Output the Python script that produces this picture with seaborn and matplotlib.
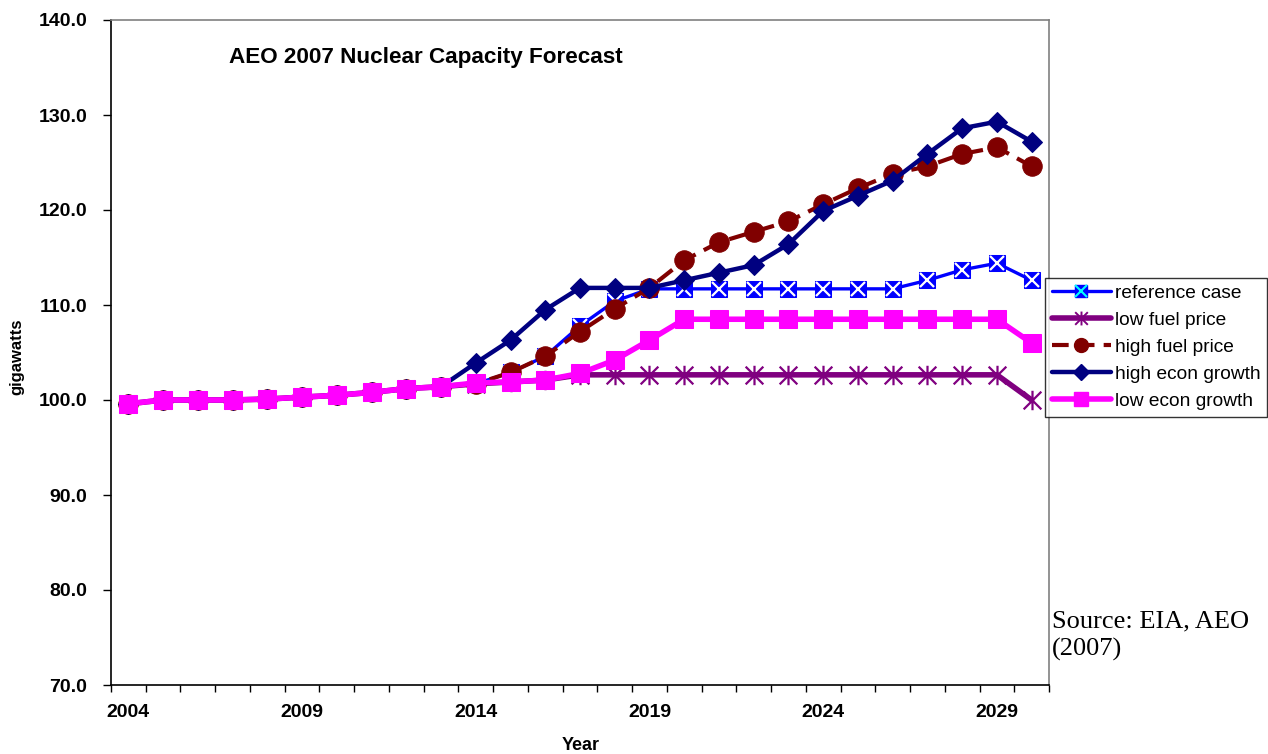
import numpy as np
import pandas as pd
import matplotlib
matplotlib.use("Agg")
import matplotlib.pyplot as plt
import seaborn as sns
from matplotlib.path import Path
from matplotlib.lines import Line2D
from matplotlib.legend_handler import HandlerTuple

# AEO 2007 nuclear capacity by scenario (gigawatts), 2004-2030
years = list(range(2004, 2031))

reference_case = [99.6, 100.0, 100.0, 100.0, 100.1, 100.3, 100.5, 100.8, 101.2, 101.4,
                  101.7, 102.9, 104.6, 107.8, 110.4, 111.7, 111.7, 111.7, 111.7, 111.7,
                  111.7, 111.7, 111.7, 112.6, 113.7, 114.4, 112.6]
low_fuel_price = [99.6, 100.0, 100.0, 100.0, 100.1, 100.3, 100.5, 100.8, 101.2, 101.4,
                  101.7, 101.9, 102.1, 102.65, 102.65, 102.65, 102.65, 102.65, 102.65, 102.65,
                  102.65, 102.65, 102.65, 102.65, 102.65, 102.65, 100.0]
high_fuel_price = [99.6, 100.0, 100.0, 100.0, 100.1, 100.3, 100.5, 100.8, 101.2, 101.4,
                   101.7, 102.9, 104.6, 107.2, 109.6, 111.8, 114.7, 116.6, 117.7, 118.8,
                   120.6, 122.3, 123.8, 124.6, 125.9, 126.6, 124.6]
high_econ_growth = [99.6, 100.0, 100.0, 100.0, 100.1, 100.3, 100.5, 100.8, 101.2, 101.4,
                    103.9, 106.3, 109.5, 111.8, 111.8, 111.8, 112.6, 113.4, 114.2, 116.4,
                    119.9, 121.5, 123.1, 125.9, 128.6, 129.3, 127.2]
low_econ_growth = [99.6, 100.0, 100.0, 100.0, 100.1, 100.3, 100.5, 100.8, 101.2, 101.4,
                   101.8, 101.9, 102.1, 102.8, 104.2, 106.3, 108.5, 108.5, 108.5, 108.5,
                   108.5, 108.5, 108.5, 108.5, 108.5, 108.5, 106.0]

series_names = ["reference case", "low fuel price", "high fuel price",
                "high econ growth", "low econ growth"]
year_labels = [2004, 2009, 2014, 2019, 2024, 2029]
y_ticks = [70, 80, 90, 100, 110, 120, 130, 140]

sns.set_style("ticks")
plt.rcParams["font.family"] = ["Liberation Sans", "DejaVu Sans"]
plt.rcParams["text.color"] = "black"
plt.rcParams["xtick.color"] = "black"
plt.rcParams["ytick.color"] = "black"
plt.rcParams["axes.labelcolor"] = "black"

# Excel style "star" marker: an X with a vertical bar through it
star = Path([(-1, -1), (1, 1), (-1, 1), (1, -1), (0, -1.1), (0, 1.1)],
            [Path.MOVETO, Path.LINETO, Path.MOVETO, Path.LINETO, Path.MOVETO, Path.LINETO])

fig = plt.figure(figsize=(12.68, 7.54), dpi=100)
ax = fig.add_axes([111 / 1268, 1 - 685 / 754, (1049 - 111) / 1268, (685 - 20) / 754])

sns.lineplot(x=years, y=reference_case, ax=ax, color="#0000FF", linewidth=2.4,
             marker="s", markersize=12, markerfacecolor="#0000FF",
             markeredgecolor="#0000FF", zorder=3)
sns.lineplot(x=years, y=reference_case, ax=ax, color="#00FFFF", linestyle="none",
             marker="x", markersize=10, markeredgewidth=1.6, zorder=3)
sns.lineplot(x=years, y=low_fuel_price, ax=ax, color="#800080", linewidth=4,
             marker=star, markersize=14, markeredgewidth=1.6,
             markeredgecolor="#800080", markerfacecolor="none", zorder=4)
sns.lineplot(x=years, y=high_fuel_price, ax=ax, color="#800000", linewidth=3,
             linestyle=(0, (4.5, 2.2)), marker="o", markersize=14,
             markeredgecolor="#800000", markerfacecolor="#800000", zorder=5)
sns.lineplot(x=years, y=high_econ_growth, ax=ax, color="#000080", linewidth=3.2,
             marker="D", markersize=10, markeredgecolor="#000080",
             markerfacecolor="#000080", zorder=6)
sns.lineplot(x=years, y=low_econ_growth, ax=ax, color="#FF00FF", linewidth=4,
             marker="s", markersize=13, markeredgecolor="#FF00FF",
             markerfacecolor="#FF00FF", zorder=7)

ax.set_xlim(2003.5, 2030.5)
ax.set_ylim(70, 140)
ax.set_xticks(year_labels)
ax.set_xticklabels([str(y) for y in year_labels], fontsize=14, fontweight="bold")
ax.set_xticks(np.arange(2003.5, 2031, 1.0), minor=True)
ax.tick_params(axis="x", which="major", length=0, pad=14)
ax.tick_params(axis="x", which="minor", length=5, width=1, color="black", direction="out")
ax.set_yticks(y_ticks)
ax.set_yticklabels([f"{v:.1f}" for v in y_ticks], fontsize=14, fontweight="bold")
ax.tick_params(axis="y", length=6, width=1, color="black", direction="out", pad=11)
ax.set_xlabel("")
ax.set_ylabel("")

for side in ["left", "bottom"]:
    ax.spines[side].set_color("black")
    ax.spines[side].set_linewidth(1.2)
for side in ["top", "right"]:
    ax.spines[side].set_visible(True)
    ax.spines[side].set_color("#808080")
    ax.spines[side].set_linewidth(1.2)

fig.text(426 / 1268, 1 - 57 / 754, "AEO 2007 Nuclear Capacity Forecast",
         ha="center", va="center", fontsize=16.2, fontweight="bold")
fig.text(17 / 1268, 1 - 357 / 754, "gigawatts", rotation=90, ha="center",
         va="center", fontsize=12, fontweight="bold")
fig.text(581 / 1268, 1 - 746 / 754, "Year", ha="center", va="center",
         fontsize=13, fontweight="bold")
fig.text(1052 / 1268, 1 - 627 / 754, "Source: EIA, AEO", ha="left", va="baseline",
         fontsize=19, family="Liberation Serif")
fig.text(1052 / 1268, 1 - 656 / 754, "(2007)", ha="left", va="baseline",
         fontsize=19, family="Liberation Serif")

# legend handles
h_ref = (Line2D([], [], color="#0000FF", linewidth=2.4, marker="s", markersize=9,
                markerfacecolor="#0000FF", markeredgecolor="#0000FF"),
         Line2D([], [], color="#00FFFF", linestyle="none", marker="x", markersize=8,
                markeredgewidth=1.5))
h_low_fuel = Line2D([], [], color="#800080", linewidth=4, marker=star, markersize=10,
                    markeredgewidth=1.4, markerfacecolor="none")
h_high_fuel = Line2D([], [], color="#800000", linewidth=3, linestyle=(0, (4, 2.2)),
                     marker="o", markersize=10)
h_high_econ = Line2D([], [], color="#000080", linewidth=3.2, marker="D", markersize=8)
h_low_econ = Line2D([], [], color="#FF00FF", linewidth=4, marker="s", markersize=10)

leg = fig.legend([h_ref, h_low_fuel, h_high_fuel, h_high_econ, h_low_econ], series_names,
                 loc="upper left", bbox_to_anchor=(1045 / 1268, 1 - 278 / 754),
                 fontsize=13.8, handlelength=3.1, handletextpad=0.2, labelspacing=0.5,
                 borderpad=0.35, borderaxespad=0, frameon=True, fancybox=False,
                 edgecolor="black", handler_map={tuple: HandlerTuple(ndivide=1)})
leg.get_frame().set_linewidth(1.0)

fig.savefig("out.png", dpi=100)
